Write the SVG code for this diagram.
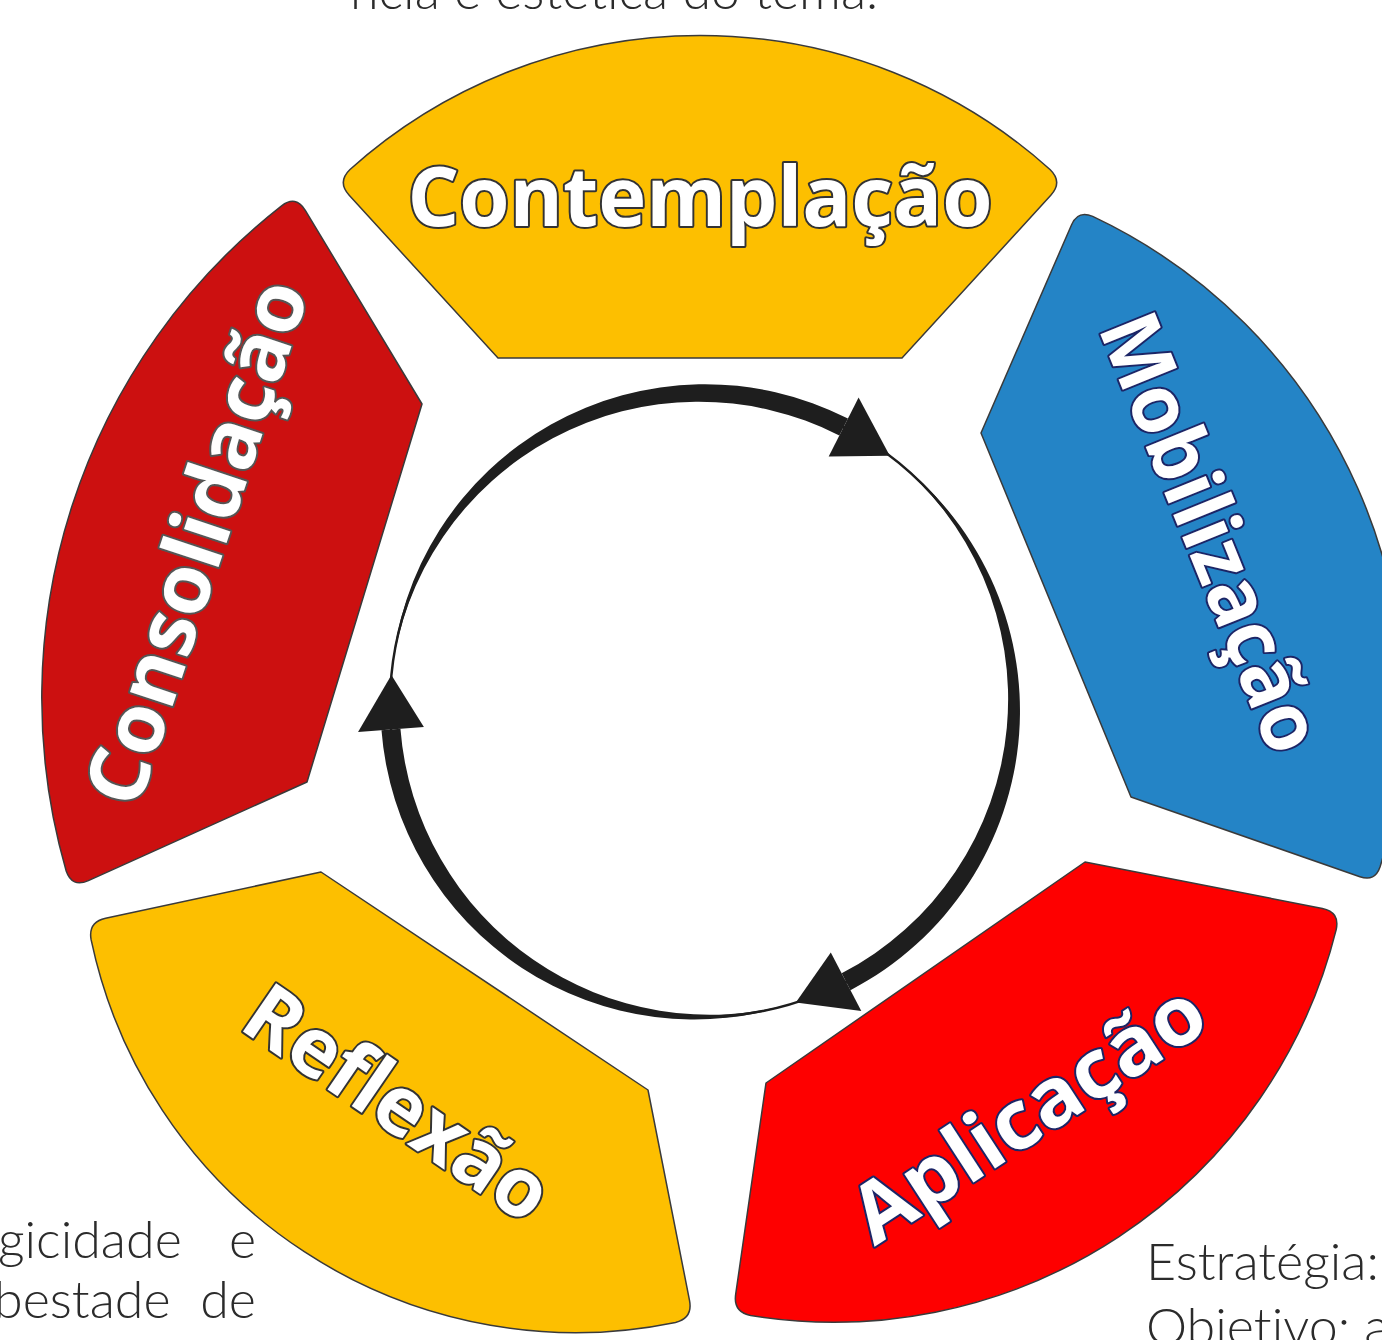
<svg xmlns="http://www.w3.org/2000/svg" width="1382" height="1340" viewBox="0 0 1382 1340">
<style>
.seg{stroke:#3a3a3a;stroke-width:1.5;stroke-linejoin:round}
.lbl{font-family:"Open Sans","Liberation Sans",sans-serif;font-weight:700;font-size:82px;fill:#fff;stroke-width:4;paint-order:stroke;stroke-linejoin:round;text-anchor:middle}
.body{font-family:Lato,"Liberation Sans",sans-serif;font-weight:300;font-size:52px;fill:#2b2b2b;font-variant-ligatures:none}
.arr{fill:#1e1e1e}
</style>
<rect width="1382" height="1340" fill="#fff"/>
<g id="text-fragments">
<text class="body" x="350" y="9">ncia e estética do tema.</text>
<text class="body" x="-2" y="1258">gicidade</text>
<text class="body" x="256" y="1258" text-anchor="end">e</text>
<text class="body" x="-6" y="1318">bestade</text>
<text class="body" x="256" y="1318" text-anchor="end">de</text>
<text class="body" x="1146" y="1280">Estratégia:</text>
<text class="body" x="1146" y="1345">Objetivo: a</text>
</g>
<g id="contemplacao">
<path class="seg" fill="#FDBF00" d="M 498,358 L 902,358 L 1050.8,195.3 Q 1063,182 1050,169.5 A 524 524 0 0 0 350,169.5 Q 337,182 349.2,195.3 Z"/>
<text class="lbl" x="700" y="226" textLength="585" lengthAdjust="spacingAndGlyphs" stroke="#333">Contemplação</text>
</g>
<g id="mobilizacao">
<path class="seg" fill="#2484C6" d="M 981,433 L 1071.6,224.7 Q 1078,210 1092.7,216.4 A 543 543 0 0 1 1380.1,866.8 Q 1375,882 1359.9,876.7 L 1131,797 Z"/>
<text class="lbl" transform="translate(1208,534) rotate(68)" x="0" y="25" textLength="465" lengthAdjust="spacingAndGlyphs" stroke="#1c2566">Mobilização</text>
</g>
<g id="aplicacao">
<path class="seg" fill="#FE0000" d="M 1085,862 L 1322.4,908.4 Q 1340,912 1336.2,929.6 A 518 518 0 0 1 750.6,1315.6 Q 733,1312 735.7,1294.2 L 766,1083 Z"/>
<text class="lbl" transform="translate(1030,1116) rotate(-33)" x="0" y="25" textLength="403" lengthAdjust="spacingAndGlyphs" stroke="#1c2566">Aplicação</text>
</g>
<g id="reflexao">
<path class="seg" fill="#FDBF00" d="M 321,872 L 648,1090 L 689.5,1300.3 Q 693,1318 675.5,1322.4 A 495 495 0 0 1 91.1,939.7 Q 88,922 105.6,918.2 Z"/>
<text class="lbl" transform="translate(396,1106) rotate(34.4)" x="0" y="25" textLength="351" lengthAdjust="spacingAndGlyphs" stroke="#333">Reflexão</text>
</g>
<g id="consolidacao">
<path class="seg" fill="#CC1010" d="M 422,404 L 305.3,210.4 Q 296,195 281.6,205.8 A 625 625 0 0 0 66.2,871 Q 72,888 88.4,880.6 L 307,782 Z"/>
<text class="lbl" transform="translate(200,543.5) rotate(-71.7)" x="0" y="25" textLength="547" lengthAdjust="spacingAndGlyphs" stroke="#555">Consolidação</text>
</g>
<g id="connectors">
<circle cx="702" cy="705" r="312" fill="none" stroke="#1e1e1e" stroke-width="2.5"/>
<path class="arr" d="M 391.4,675.1 A 314.55 314.55 0 0 1 847.96,418.54 L 839.33,435.47 A 309.45 309.45 0 0 0 391.4,675.1 Z"/>
<path class="arr" d="M 858.6,397.6 L 889.8,455.8 L 828.7,456.4 Z"/>
<path class="arr" d="M 889.77,455.82 A 314.86 314.86 0 0 1 850.45,990.17 L 841.68,973.32 A 309.14 309.14 0 0 0 889.77,455.82 Z"/>
<path class="arr" d="M 861.3,1011 L 795.8,1002.6 L 830.8,952.5 Z"/>
<path class="arr" d="M 795.8,1002.6 A 313.74 313.74 0 0 1 381.49,730.22 L 400.43,728.73 A 310.26 310.26 0 0 0 795.8,1002.6 Z"/>
<path class="arr" d="M 358.06,732.07 L 391.4,675.1 L 423.86,726.89 Z"/>
</g>
</svg>
